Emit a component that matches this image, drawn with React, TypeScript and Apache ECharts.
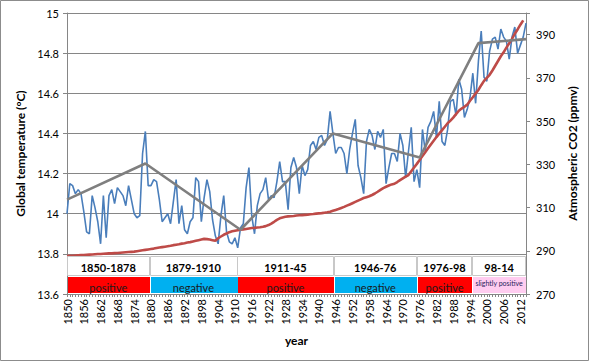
import React, { useEffect, useRef } from 'react';
import * as echarts from 'echarts';

// Categories: years 1850..2014
const years: string[] = Array.from({ length: 165 }, (_, i) => String(1850 + i));

// Global temperature (°C), 1850..2014
const temperature: number[] = [
  14.00, 14.15, 14.14, 14.10, 14.12, 14.10, 14.01, 13.91, 13.90, 14.09,
  14.03, 13.96, 13.85, 14.09, 13.88, 14.09, 14.12, 14.05, 14.13, 14.11,
  14.09, 14.04, 14.14, 14.07, 14.00, 13.98, 13.99, 14.30, 14.41, 14.14,
  14.14, 14.17, 14.16, 14.07, 13.96, 13.98, 14.00, 13.95, 14.06, 14.17,
  13.95, 14.04, 13.92, 13.90, 13.96, 13.98, 14.18, 14.16, 13.96, 14.08,
  14.17, 14.11, 13.97, 13.89, 13.85, 13.99, 14.09, 13.91, 13.86, 13.85,
  13.88, 13.83, 13.93, 13.95, 14.13, 14.23, 13.99, 13.90, 14.04, 14.10,
  14.12, 14.18, 14.07, 14.09, 14.08, 14.16, 14.26, 14.16, 14.16, 14.02,
  14.23, 14.28, 14.23, 14.10, 14.24, 14.19, 14.22, 14.34, 14.36, 14.32,
  14.38, 14.39, 14.34, 14.37, 14.51, 14.40, 14.30, 14.33, 14.33, 14.30,
  14.20, 14.32, 14.40, 14.47, 14.24, 14.18, 14.10, 14.36, 14.42, 14.39,
  14.32, 14.41, 14.38, 14.42, 14.15, 14.23, 14.30, 14.30, 14.26, 14.40,
  14.34, 14.18, 14.31, 14.43, 14.16, 14.22, 14.13, 14.42, 14.31, 14.43,
  14.46, 14.51, 14.38, 14.56, 14.36, 14.34, 14.42, 14.56, 14.57, 14.49,
  14.67, 14.62, 14.48, 14.52, 14.58, 14.70, 14.55, 14.76, 14.91, 14.68,
  14.66, 14.81, 14.87, 14.88, 14.82, 14.92, 14.88, 14.86, 14.77, 14.88,
  14.93, 14.80, 14.84, 14.88, 14.95,
];

// Atmospheric CO2 (ppmv), 1850..2013
const co2: number[] = [
  287.6, 287.7, 287.7, 287.8, 287.9, 288.0, 288.0, 288.1, 288.2, 288.3,
  288.4, 288.5, 288.5, 288.6, 288.7, 288.8, 288.8, 288.9, 289.0, 289.1,
  289.2, 289.3, 289.4, 289.5, 289.6, 289.8, 290.0, 290.2, 290.4, 290.6,
  290.8, 291.0, 291.3, 291.5, 291.7, 291.9, 292.1, 292.3, 292.6, 292.8,
  293.0, 293.3, 293.5, 293.8, 294.0, 294.3, 294.6, 294.9, 295.2, 295.5,
  295.4, 295.2, 294.9, 294.6, 295.8, 296.6, 297.4, 298.0, 298.6, 299.0,
  299.3, 299.5, 299.7, 299.9, 300.1, 300.3, 300.5, 300.6, 300.8, 300.9,
  301.1, 301.4, 301.9, 302.6, 303.4, 304.3, 305.0, 305.4, 305.7, 305.9,
  306.0, 306.1, 306.3, 306.4, 306.5, 306.6, 306.7, 306.9, 307.0, 307.2,
  307.3, 307.4, 307.6, 307.8, 308.1, 308.5, 308.9, 309.3, 309.8, 310.3,
  310.9, 311.4, 312.0, 312.6, 313.2, 313.8, 314.4, 314.8, 315.2, 315.8,
  316.5, 317.3, 318.2, 319.0, 319.6, 320.2, 320.7, 321.0, 321.8, 322.7,
  323.5, 324.3, 325.0, 326.8, 328.5, 330.2, 332.0, 333.8, 335.6, 337.4,
  339.2, 340.9, 342.6, 344.2, 345.8, 347.4, 349.0, 350.2, 351.6, 353.2,
  354.8, 355.8, 356.6, 357.6, 359.4, 361.0, 362.8, 364.4, 366.6, 368.6,
  370.0, 371.4, 373.4, 375.6, 377.8, 380.0, 381.8, 384.0, 386.0, 388.0,
  390.4, 392.4, 394.6, 396.6,
];

// Piecewise trend line (gray)
const trendYears: string[] = ['1850', '1878', '1912', '1945', '1976', '1997', '2014'];
const trendValues: number[] = [14.07, 14.25, 13.92, 14.40, 14.28, 14.85, 14.87];

// Periods (boxes below the curves)
const periodLabels: string[] = ['1850-1878', '1879-1910', '1911-45', '1946-76', '1976-98', '98-14'];
const periodTrends: string[] = ['positive', 'negative', 'positive', 'negative', 'positive', 'slightly positive'];
const periodStart: number[] = [1850, 1879.5, 1910.8, 1945.3, 1975.0, 1994.8];
const periodEnd: number[] = [1879.5, 1910.8, 1945.3, 1975.0, 1994.8, 2014];

const trendColors: Record<string, string> = {
  positive: '#ff0000',
  negative: '#00b0f0',
  'slightly positive': '#ffccf0',
};

const FONT = 'Lato, "Open Sans", sans-serif';
const AXIS_GRAY = '#868686';

export default function App() {
  const ref = useRef<HTMLDivElement>(null);

  useEffect(() => {
    if (!ref.current) return;
    const chart = echarts.init(ref.current, null, { renderer: 'svg' });

    const xAt = (api: any, year: number, y: number) => {
      const idx = year - 1850;
      const i0 = Math.floor(idx);
      const f = idx - i0;
      const p0 = api.coord([i0, y]);
      if (f === 0) return p0;
      const p1 = api.coord([i0 + 1, y]);
      return [p0[0] + f * (p1[0] - p0[0]), p0[1]];
    };

    const option: any = {
      animation: false,
      backgroundColor: '#ffffff',
      textStyle: { fontFamily: FONT },
      grid: { left: 67, right: 64, top: 13, bottom: 68, containLabel: false },
      xAxis: {
        type: 'category',
        data: years,
        boundaryGap: false,
        name: 'year',
        nameLocation: 'middle',
        nameGap: 40,
        nameTextStyle: { fontFamily: FONT, fontSize: 12, fontWeight: 'bold', color: '#000' },
        axisLine: { lineStyle: { color: AXIS_GRAY, width: 1 } },
        axisTick: { interval: 0, length: 3, lineStyle: { color: AXIS_GRAY } },
        axisLabel: {
          interval: 5,
          rotate: 90,
          fontFamily: FONT,
          fontSize: 11,
          color: '#000',
          margin: 5,
        },
        splitLine: { show: false },
      },
      yAxis: [
        {
          type: 'value',
          min: 13.6,
          max: 15,
          interval: 0.2,
          name: 'Global temperature (°C)',
          nameLocation: 'middle',
          nameRotate: 90,
          nameGap: 36,
          nameTextStyle: { fontFamily: FONT, fontSize: 12, fontWeight: 'bold', color: '#000' },
          axisLine: { show: true, lineStyle: { color: AXIS_GRAY } },
          axisTick: { show: true, length: 4, lineStyle: { color: AXIS_GRAY } },
          axisLabel: { fontFamily: FONT, fontSize: 11, color: '#000', margin: 8 },
          splitLine: { show: true, lineStyle: { color: AXIS_GRAY, width: 1 } },
        },
        {
          type: 'value',
          min: 270,
          max: 400,
          interval: 20,
          name: 'Atmospheric CO2 (ppmv)',
          nameLocation: 'middle',
          nameRotate: 90,
          nameGap: 40,
          nameTextStyle: { fontFamily: FONT, fontSize: 12, fontWeight: 'bold', color: '#000' },
          axisLine: { show: true, lineStyle: { color: AXIS_GRAY } },
          axisTick: { show: true, length: 4, lineStyle: { color: AXIS_GRAY } },
          axisLabel: {
            fontFamily: FONT,
            fontSize: 11,
            color: '#000',
            margin: 10,
            formatter: (v: number) => (v > 395 ? '' : String(v)),
          },
          splitLine: { show: false },
        },
      ],
      series: [
        {
          name: 'temperature',
          type: 'line',
          data: temperature,
          yAxisIndex: 0,
          symbol: 'none',
          lineStyle: { color: '#4a7ebb', width: 1.6 },
          z: 2,
        },
        {
          name: 'co2',
          type: 'line',
          data: co2,
          yAxisIndex: 1,
          symbol: 'none',
          lineStyle: { color: '#be4b48', width: 2.6 },
          z: 3,
        },
        {
          name: 'trend',
          type: 'line',
          data: trendYears.map((y, i) => [y, trendValues[i]]),
          yAxisIndex: 0,
          symbol: 'none',
          lineStyle: { color: '#7f7f7f', width: 2.6 },
          z: 4,
        },
        {
          name: 'periods',
          type: 'custom',
          yAxisIndex: 0,
          z: 10,
          clip: false,
          data: periodLabels.map((_, i) => [i, 13.7]),
          renderItem: (params: any, api: any) => {
            const i = params.dataIndex;
            const s = periodStart[i];
            const e = periodEnd[i];
            const wTop = xAt(api, s, 13.787);
            const wBot = xAt(api, e, 13.69);
            const cTop = xAt(api, s, 13.683);
            const cBot = xAt(api, e, 13.603);
            const trend = periodTrends[i];
            const small = trend === 'slightly positive';
            return {
              type: 'group',
              children: [
                {
                  type: 'rect',
                  shape: {
                    x: Math.round(wTop[0]) + 0.5,
                    y: Math.round(wTop[1]) + 0.5,
                    width: Math.round(wBot[0] - wTop[0]) - 1,
                    height: Math.round(wBot[1] - wTop[1]),
                  },
                  style: { fill: '#ffffff', stroke: '#c8c8c8', lineWidth: 1 },
                },
                {
                  type: 'text',
                  style: {
                    text: periodLabels[i],
                    x: (wTop[0] + wBot[0]) / 2,
                    y: (wTop[1] + wBot[1]) / 2 + 1,
                    align: 'center',
                    verticalAlign: 'middle',
                    fontFamily: FONT,
                    fontSize: 11,
                    fontWeight: 'bold',
                    fill: '#000',
                  },
                },
                {
                  type: 'rect',
                  shape: {
                    x: Math.round(cTop[0]) + 1,
                    y: Math.round(cTop[1]),
                    width: Math.round(cBot[0] - cTop[0]) - 1,
                    height: Math.round(cBot[1] - cTop[1]),
                  },
                  style: { fill: trendColors[trend] },
                },
                {
                  type: 'text',
                  style: {
                    text: trend,
                    x: (cTop[0] + cBot[0]) / 2,
                    y: small ? (cTop[1] + cBot[1]) / 2 - 2 : (cTop[1] + cBot[1]) / 2 + 2,
                    align: 'center',
                    verticalAlign: 'middle',
                    fontFamily: FONT,
                    fontSize: small ? 7 : 11,
                    fill: small ? '#1f1f5c' : '#1a1a1a',
                  },
                },
              ],
            };
          },
        },
      ],
      graphic: [
        {
          type: 'rect',
          shape: { x: 0.5, y: 0.5, width: 588, height: 360 },
          style: { fill: 'none', stroke: '#8c8c8c', lineWidth: 1 },
          z: 100,
          silent: true,
        },
      ],
    };

    chart.setOption(option);
    return () => {
      chart.dispose();
    };
  }, []);

  return (
    <div
      ref={ref}
      style={{ position: 'fixed', left: 0, top: 0, width: 590, height: 362, background: '#fff' }}
    />
  );
}
